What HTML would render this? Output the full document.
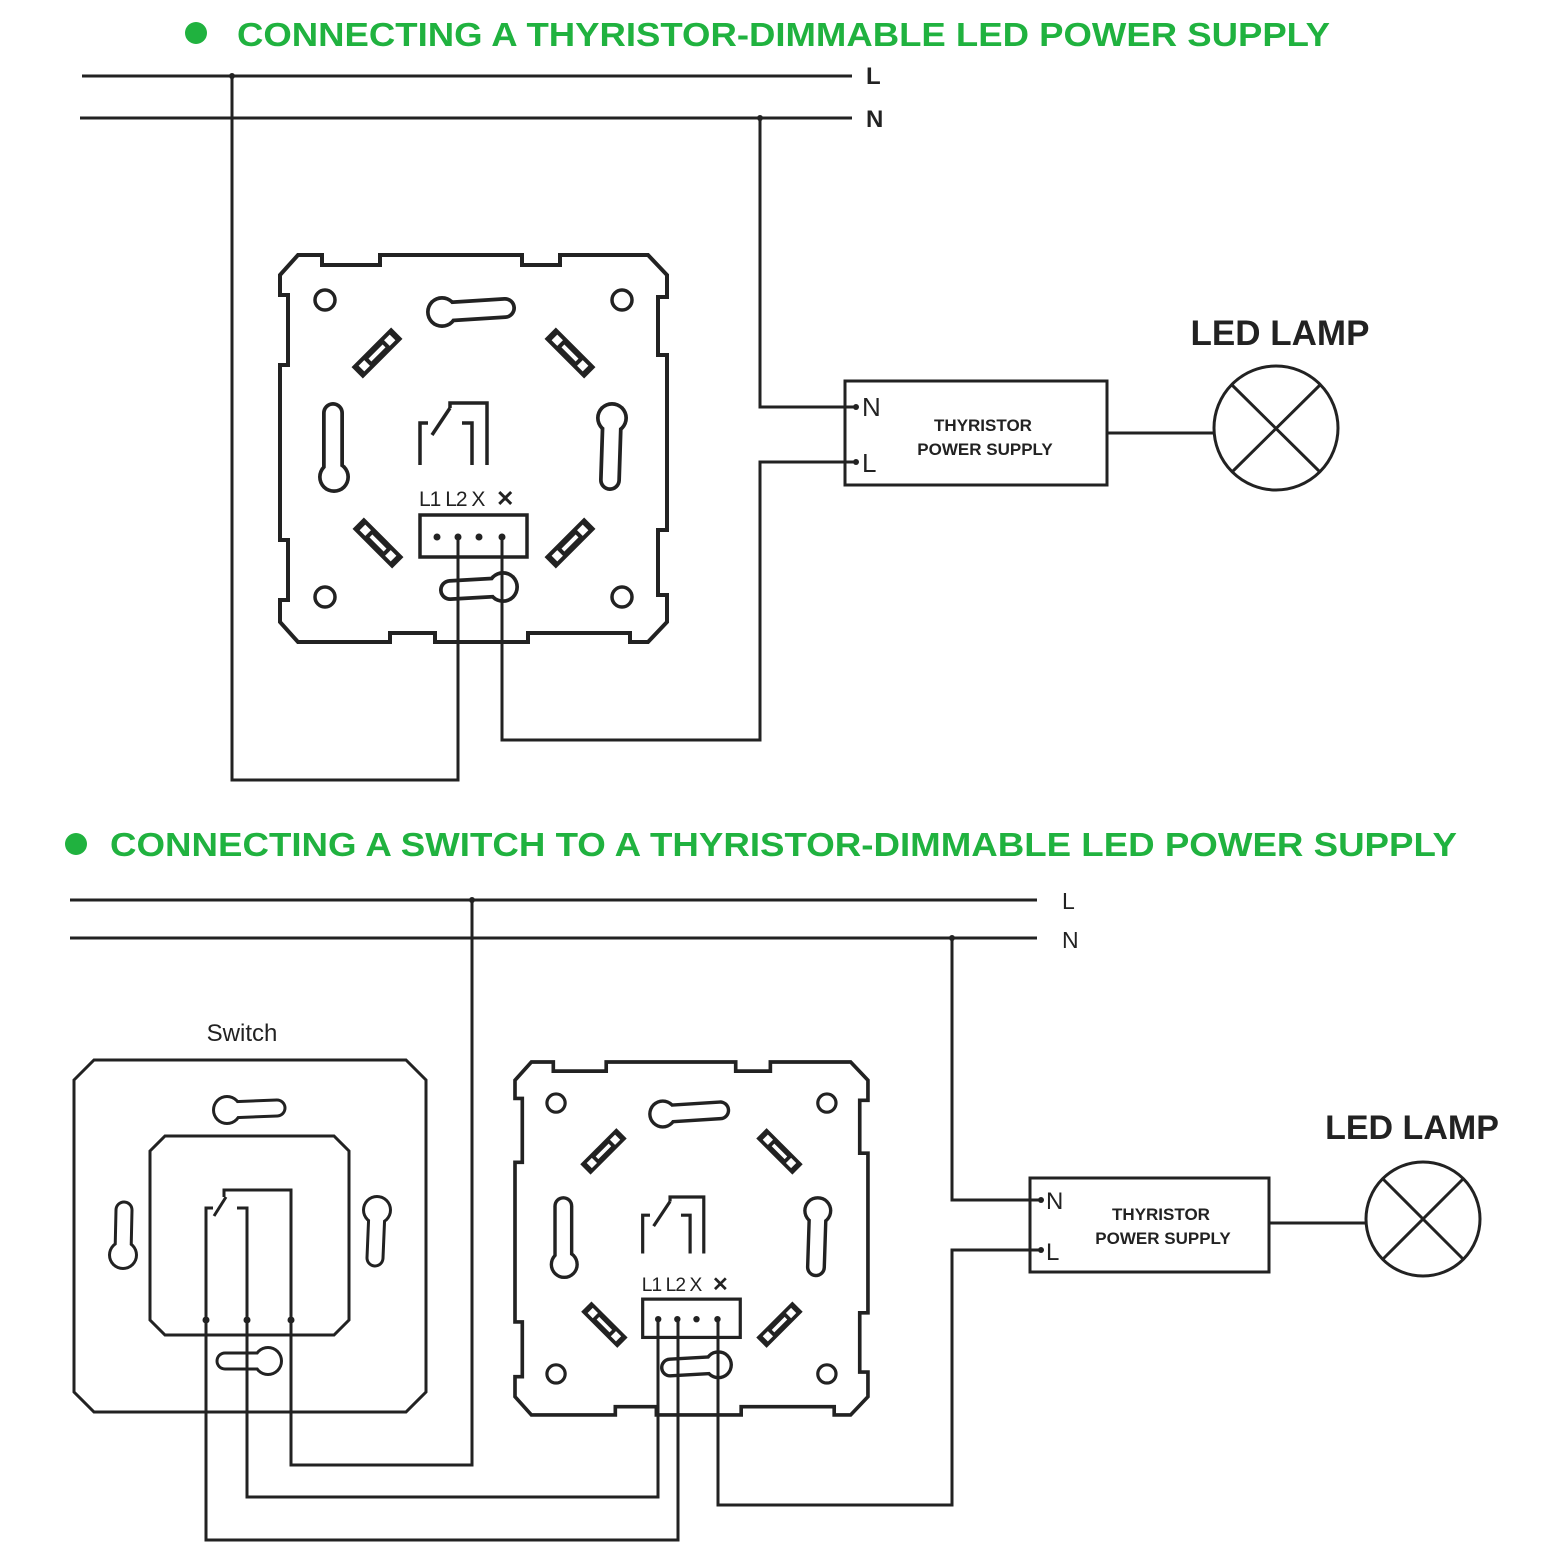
<!DOCTYPE html>
<html><head><meta charset="utf-8"><style>html,body{margin:0;padding:0;background:#fff}svg{display:block}</style></head>
<body>
<svg width="1568" height="1568" viewBox="0 0 1568 1568" xmlns="http://www.w3.org/2000/svg" font-family="Liberation Sans, sans-serif">
<defs>
<g id="clip">
 <rect x="-28" y="-8" width="56" height="16" fill="#222"/>
 <rect x="-22" y="-4" width="8" height="8" fill="#fff"/>
 <rect x="-10" y="-2" width="20" height="4" fill="#fff"/>
 <rect x="14" y="-4" width="8" height="8" fill="#fff"/>
</g>
<g id="dimmer">
 <path d="M0,20 L18,0 L42,0 L42,10 L100,10 L100,0 L242,0 L242,10 L280,10 L280,0 L368,0 L387,20 L387,42 L378,42 L378,100 L387,100 L387,275 L378,275 L378,340 L387,340 L387,367 L368,387 L350,387 L350,378 L248,378 L248,387 L155,387 L155,378 L110,378 L110,387 L18,387 L0,367 L0,345 L8,345 L8,285 L0,285 L0,110 L8,110 L8,40 L0,40 Z" fill="none" stroke="#222" stroke-width="4"/>
 <g fill="none" stroke="#222" stroke-width="3.5">
  <circle cx="45" cy="45" r="10"/><circle cx="342" cy="45" r="10"/>
  <circle cx="45" cy="342" r="10"/><circle cx="342" cy="342" r="10"/>
 </g>
 <g stroke="#222" stroke-linecap="round">
  <line x1="162" y1="57" x2="225" y2="53" stroke-width="22"/><circle cx="162" cy="57" r="16" fill="#222" stroke="none"/>
  <line x1="53" y1="158" x2="53" y2="220" stroke-width="22"/><circle cx="54" cy="222" r="16" fill="#222" stroke="none"/>
  <line x1="332" y1="163" x2="330" y2="225" stroke-width="22"/><circle cx="332" cy="163" r="16" fill="#222" stroke="none"/>
  <line x1="223" y1="332" x2="170" y2="335" stroke-width="22"/><circle cx="223" cy="332" r="16" fill="#222" stroke="none"/>
 </g>
 <g stroke="#fff" stroke-linecap="round">
  <line x1="162" y1="57" x2="225" y2="53" stroke-width="14.5"/><circle cx="162" cy="57" r="12.3" fill="#fff" stroke="none"/>
  <line x1="53" y1="158" x2="53" y2="220" stroke-width="14.5"/><circle cx="54" cy="222" r="12.3" fill="#fff" stroke="none"/>
  <line x1="332" y1="163" x2="330" y2="225" stroke-width="14.5"/><circle cx="332" cy="163" r="12.3" fill="#fff" stroke="none"/>
  <line x1="223" y1="332" x2="170" y2="335" stroke-width="14.5"/><circle cx="223" cy="332" r="12.3" fill="#fff" stroke="none"/>
 </g>
 <use href="#clip" transform="translate(97,98) rotate(-45)"/>
 <use href="#clip" transform="translate(290,98) rotate(45)"/>
 <use href="#clip" transform="translate(98,288) rotate(45)"/>
 <use href="#clip" transform="translate(290,288) rotate(-45)"/>
 <g fill="none" stroke="#222" stroke-width="3.5">
  <path d="M140,210 L140,168 L148,168"/>
  <path d="M152,180 L170,153"/>
  <path d="M170,153 L170,148 L207,148 L207,210"/>
  <path d="M182,168 L192,168 L192,210"/>
  <rect x="140" y="260" width="107" height="42"/>
 </g>
 <g fill="#222"><circle cx="157" cy="282" r="3.5"/><circle cx="178" cy="282" r="3.5"/><circle cx="199" cy="282" r="3.5"/><circle cx="222" cy="282" r="3.5"/></g>
 <text x="139" y="251" font-size="21" fill="#222" letter-spacing="-1">L1 L2 X</text>
 <text x="216" y="251" font-size="22" fill="#222" font-weight="bold">✕</text>
</g>
</defs>

<!-- TOP -->
<circle cx="196" cy="33" r="11" fill="#20b23f"/>
<text x="237" y="46" font-size="33" font-weight="bold" fill="#20b23f" textLength="1093" lengthAdjust="spacingAndGlyphs">CONNECTING A THYRISTOR-DIMMABLE LED POWER SUPPLY</text>
<g stroke="#222" stroke-width="3" fill="none">
 <line x1="82" y1="76" x2="852" y2="76"/>
 <line x1="80" y1="118" x2="852" y2="118"/>
 <path d="M232,76 L232,780 L458,780 L458,537"/>
 <path d="M502,537 L502,740 L760,740 L760,462 L856,462"/>
 <path d="M760,118 L760,407 L856,407"/>
 <rect x="845" y="381" width="262" height="104"/>
 <line x1="1107" y1="433" x2="1214" y2="433"/>
 <circle cx="1276" cy="428" r="62"/>
 <line x1="1232" y1="385" x2="1320" y2="472"/>
 <line x1="1320" y1="385" x2="1232" y2="472"/>
</g>
<circle cx="232" cy="76" r="3" fill="#222"/><circle cx="760" cy="118" r="3" fill="#222"/>
<circle cx="856" cy="407" r="3" fill="#222"/><circle cx="856" cy="462" r="3" fill="#222"/>
<text x="866" y="84" font-size="24" fill="#222" font-weight="bold">L</text>
<text x="866" y="127" font-size="24" fill="#222" font-weight="bold">N</text>
<text x="862" y="416" font-size="26" fill="#222">N</text>
<text x="862" y="472" font-size="26" fill="#222">L</text>
<text x="983" y="431" font-size="17" font-weight="bold" fill="#222" text-anchor="middle">THYRISTOR</text>
<text x="985" y="455" font-size="17" font-weight="bold" fill="#222" text-anchor="middle">POWER SUPPLY</text>
<text x="1280" y="345" font-size="35" font-weight="bold" fill="#222" text-anchor="middle">LED LAMP</text>
<use href="#dimmer" transform="translate(280,255)"/>

<!-- BOTTOM -->
<circle cx="76" cy="844" r="11" fill="#20b23f"/>
<text x="110" y="856" font-size="33" font-weight="bold" fill="#20b23f" textLength="1347" lengthAdjust="spacingAndGlyphs">CONNECTING A SWITCH TO A THYRISTOR-DIMMABLE LED POWER SUPPLY</text>
<g stroke="#222" stroke-width="3" fill="none">
 <line x1="70" y1="900" x2="1037" y2="900"/>
 <line x1="70" y1="938" x2="1037" y2="938"/>
 <path d="M472,900 L472,1465 L291,1465 L291,1320"/>
 <path d="M247,1320 L247,1497 L658,1497 L658,1320"/>
 <path d="M206,1320 L206,1540 L678,1540 L678,1320"/>
 <path d="M718,1320 L718,1505 L952,1505 L952,1250 L1041,1250"/>
 <path d="M952,938 L952,1200 L1041,1200"/>
 <rect x="1030" y="1178" width="239" height="94"/>
 <line x1="1269" y1="1223" x2="1366" y2="1223"/>
 <circle cx="1423" cy="1219" r="57"/>
 <line x1="1383" y1="1179" x2="1463" y2="1259"/>
 <line x1="1463" y1="1179" x2="1383" y2="1259"/>
 <!-- switch -->
 <path d="M74,1080 L94,1060 L406,1060 L426,1080 L426,1392 L406,1412 L94,1412 L74,1392 Z"/>
 <path d="M150,1151 L165,1136 L334,1136 L349,1151 L349,1320 L334,1335 L165,1335 L150,1320 Z"/>
 <path d="M206,1320 L206,1208 L213,1208"/>
 <path d="M214,1216 L226,1197"/>
 <path d="M224,1197 L224,1190 L291,1190 L291,1320"/>
 <path d="M237,1208 L247,1208 L247,1320"/>
</g>
<g stroke="#222" stroke-linecap="round">
 <line x1="227" y1="1110" x2="277" y2="1108" stroke-width="19"/><circle cx="227" cy="1110" r="15" fill="#222" stroke="none"/>
 <line x1="124" y1="1210" x2="123" y2="1255" stroke-width="19"/><circle cx="123" cy="1255" r="15" fill="#222" stroke="none"/>
 <line x1="377" y1="1210" x2="375" y2="1258" stroke-width="19"/><circle cx="377" cy="1210" r="15" fill="#222" stroke="none"/>
 <line x1="265" y1="1361" x2="225" y2="1361" stroke-width="19"/><circle cx="268" cy="1361" r="15" fill="#222" stroke="none"/>
</g>
<g stroke="#fff" stroke-linecap="round">
 <line x1="227" y1="1110" x2="277" y2="1108" stroke-width="13"/><circle cx="227" cy="1110" r="12" fill="#fff" stroke="none"/>
 <line x1="124" y1="1210" x2="123" y2="1255" stroke-width="13"/><circle cx="123" cy="1255" r="12" fill="#fff" stroke="none"/>
 <line x1="377" y1="1210" x2="375" y2="1258" stroke-width="13"/><circle cx="377" cy="1210" r="12" fill="#fff" stroke="none"/>
 <line x1="265" y1="1361" x2="225" y2="1361" stroke-width="13"/><circle cx="268" cy="1361" r="12" fill="#fff" stroke="none"/>
</g>
<g stroke="#222" stroke-width="3"><line x1="206" y1="1335" x2="206" y2="1400"/><line x1="247" y1="1335" x2="247" y2="1400"/><line x1="291" y1="1335" x2="291" y2="1400"/></g>
<g fill="#222"><circle cx="206" cy="1320" r="3.5"/><circle cx="247" cy="1320" r="3.5"/><circle cx="291" cy="1320" r="3.5"/>
<circle cx="472" cy="900" r="3" /><circle cx="952" cy="938" r="3"/><circle cx="1041" cy="1200" r="3"/><circle cx="1041" cy="1250" r="3"/></g>
<text x="242" y="1041" font-size="24" fill="#222" text-anchor="middle">Switch</text>
<text x="1062" y="909" font-size="23" fill="#222">L</text>
<text x="1062" y="948" font-size="23" fill="#222">N</text>
<text x="1046" y="1209" font-size="24" fill="#222">N</text>
<text x="1046" y="1260" font-size="24" fill="#222">L</text>
<text x="1161" y="1220" font-size="17" font-weight="bold" fill="#222" text-anchor="middle">THYRISTOR</text>
<text x="1163" y="1244" font-size="17" font-weight="bold" fill="#222" text-anchor="middle">POWER SUPPLY</text>
<text x="1412" y="1139" font-size="34" font-weight="bold" fill="#222" text-anchor="middle">LED LAMP</text>
<use href="#dimmer" transform="translate(515,1062) scale(0.912)"/>
<g stroke="#222" stroke-width="3"><line x1="658" y1="1340" x2="658" y2="1420"/><line x1="678" y1="1340" x2="678" y2="1420"/><line x1="718" y1="1340" x2="718" y2="1420"/></g>
<g stroke="#222" stroke-width="3"><line x1="458" y1="560" x2="458" y2="645"/><line x1="502" y1="560" x2="502" y2="645"/></g>
</svg>
</body></html>
